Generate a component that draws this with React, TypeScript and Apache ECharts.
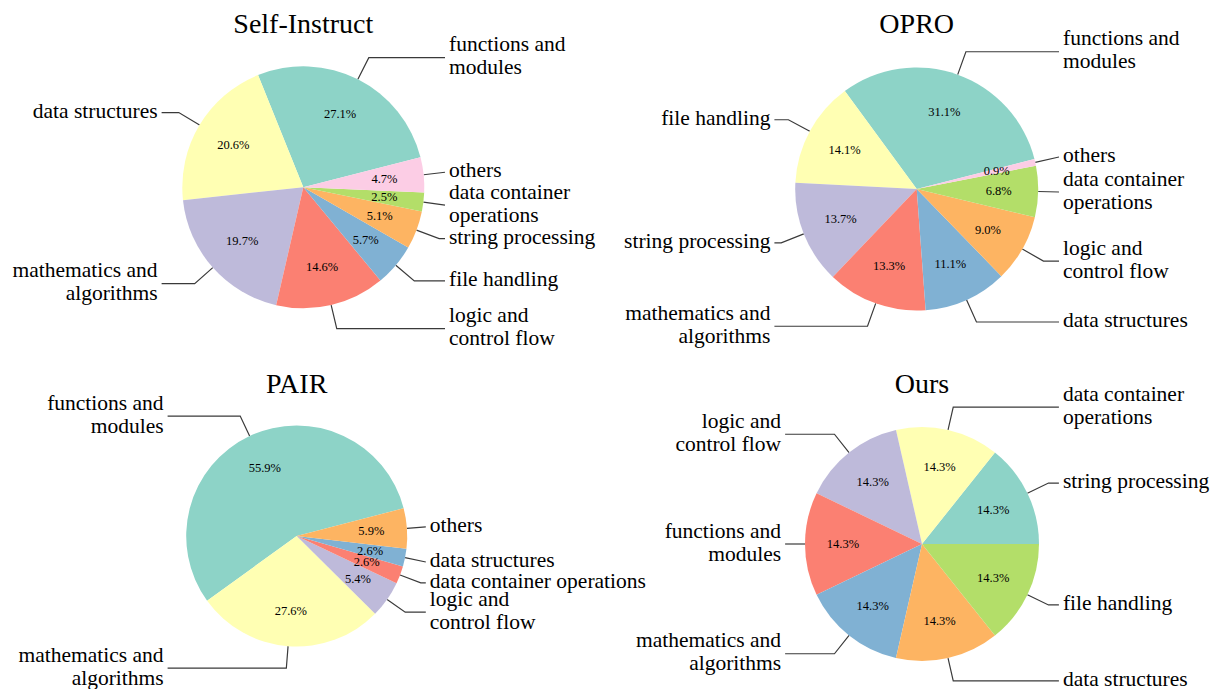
import React, { useEffect, useRef } from 'react';
import * as echarts from 'echarts';

const SET3 = ['#8dd3c7', '#ffffb3', '#bebada', '#fb8072', '#80b1d3', '#fdb462', '#b3de69', '#fccde5'];
const SERIF = '"Liberation Serif", "Times New Roman", serif';

const selfInstructLabels = ['functions and\nmodules', 'data structures', 'mathematics and\nalgorithms', 'logic and\ncontrol flow', 'file handling', 'string processing', 'data container\noperations', 'others'];
const selfInstructValues = [27.1, 20.6, 19.7, 14.6, 5.7, 5.1, 2.5, 4.7];

const oproLabels = ['functions and\nmodules', 'file handling', 'string processing', 'mathematics and\nalgorithms', 'data structures', 'logic and\ncontrol flow', 'data container\noperations', 'others'];
const oproValues = [31.1, 14.1, 13.7, 13.3, 11.1, 9.0, 6.8, 0.9];

const pairLabels = ['functions and\nmodules', 'mathematics and\nalgorithms', 'logic and\ncontrol flow', 'data container operations', 'data structures', 'others'];
const pairValues = [55.9, 27.6, 5.4, 2.6, 2.6, 5.9];

const oursLabels = ['string processing', 'data container\noperations', 'logic and\ncontrol flow', 'functions and\nmodules', 'mathematics and\nalgorithms', 'data structures', 'file handling'];
const oursValues = [14.3, 14.3, 14.3, 14.3, 14.3, 14.3, 14.3];

type PieSpec = {
  title: string;
  labels: string[];
  values: number[];
  cx: number;
  cy: number;
  r: number;
  start: number;
  titleY: number;
};

const pies: PieSpec[] = [
  { title: 'Self-Instruct', labels: selfInstructLabels, values: selfInstructValues, cx: 303.3, cy: 187.3, r: 121, start: 14.4, titleY: 23.5 },
  { title: 'OPRO', labels: oproLabels, values: oproValues, cx: 916.7, cy: 189, r: 121.5, start: 14.3, titleY: 23.5 },
  { title: 'PAIR', labels: pairLabels, values: pairValues, cx: 296.7, cy: 536, r: 110.5, start: 14.6, titleY: 383.5 },
  { title: 'Ours', labels: oursLabels, values: oursValues, cx: 922, cy: 544, r: 117, start: 0, titleY: 383.5 },
];

function buildSeries(p: PieSpec): any[] {
  const total = p.values.reduce((a, b) => a + b, 0);
  const mids: number[] = [];
  let acc = 0;
  p.values.forEach((v) => {
    mids.push(acc + v / 2);
    acc += v;
  });
  const R = p.r * 1.2;
  const colored = {
    type: 'pie',
    center: [p.cx, p.cy],
    radius: p.r,
    startAngle: p.start,
    clockwise: false,
    avoidLabelOverlap: false,
    silent: true,
    emphasis: { disabled: true },
    itemStyle: { borderWidth: 0 },
    data: p.values.map((v, i) => ({ name: p.labels[i], value: v, itemStyle: { color: SET3[i] } })),
    label: {
      show: true,
      position: 'outside',
      formatter: '{b}',
      fontFamily: SERIF,
      fontSize: 21.5,
      lineHeight: 23,
      color: '#000',
    },
    labelLine: {
      show: true,
      length: p.r * 0.2,
      length2: 5,
      smooth: false,
      lineStyle: { color: '#3a3a3a', width: 1.2 },
    },
    labelLayout: (params: any) => {
      const ang = ((p.start + (360 * mids[params.dataIndex]) / total) * Math.PI) / 180;
      const cos = Math.cos(ang);
      const sin = Math.sin(ang);
      const side = cos >= 0 ? 1 : -1;
      const y = p.cy - R * sin;
      const endX = p.cx + side * (R - 3.5);
      let ex = p.cx + R * cos;
      if (side > 0) ex = Math.min(ex, endX);
      else ex = Math.max(ex, endX);
      return {
        x: p.cx + side * (R + 0.5),
        y: y - 2,
        align: side > 0 ? 'left' : 'right',
        verticalAlign: 'middle',
        fontFamily: SERIF,
        fontSize: 21.5,
        hideOverlap: false,
        labelLinePoints: [
          [p.cx + p.r * cos, p.cy - p.r * sin],
          [ex, y],
          [endX, y],
        ],
      };
    },
  };
  const percents = {
    type: 'pie',
    center: [p.cx, p.cy],
    radius: p.r * 1.3,
    startAngle: p.start,
    clockwise: false,
    avoidLabelOverlap: false,
    silent: true,
    emphasis: { disabled: true },
    itemStyle: { color: 'rgba(0,0,0,0)', borderWidth: 0 },
    data: p.values.map((v, i) => ({ name: p.labels[i], value: v })),
    label: {
      show: true,
      position: 'inside',
      formatter: (q: any) => Number(q.value).toFixed(1) + '%',
      fontFamily: SERIF,
      fontSize: 12.5,
      color: '#000',
      textBorderWidth: 0,
    },
    labelLayout: { hideOverlap: false },
    labelLine: { show: false },
  };
  return [colored, percents];
}

export default function App() {
  const ref = useRef<HTMLDivElement>(null);
  useEffect(() => {
    document.body.style.margin = '0';
    if (!ref.current) return;
    const chart = echarts.init(ref.current, undefined, { renderer: 'svg' });
    const series: any[] = [];
    pies.forEach((p) => series.push(...buildSeries(p)));
    chart.setOption({
      animation: false,
      backgroundColor: '#fff',
      graphic: pies.map((p) => ({
        type: 'text',
        x: p.cx,
        y: p.titleY,
        silent: true,
        style: {
          text: p.title,
          fill: '#000',
          fontSize: 28,
          fontFamily: SERIF,
          align: 'center',
          verticalAlign: 'middle',
        },
      })),
      series,
    });
    return () => chart.dispose();
  }, []);
  return <div ref={ref} style={{ width: 1217, height: 689 }} />;
}
